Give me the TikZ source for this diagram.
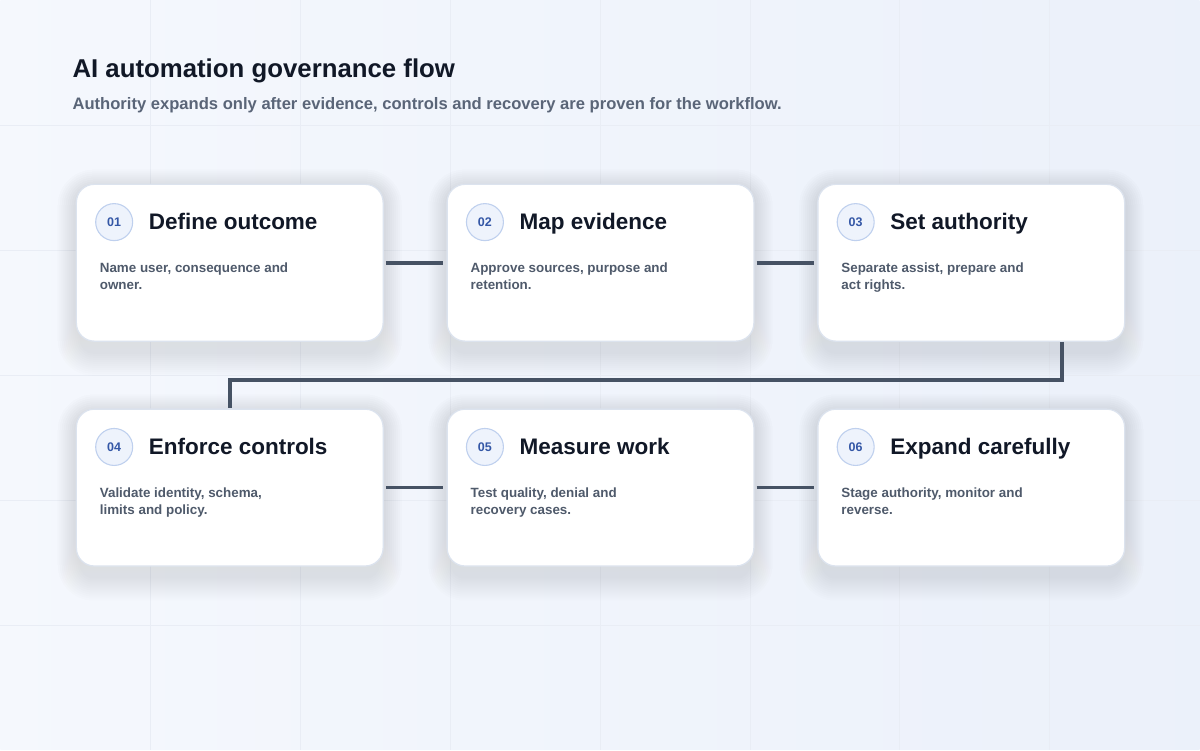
\documentclass[tikz,border=0pt]{standalone}
\usepackage{fontspec}
\setmainfont{Liberation Sans}

\definecolor{ink}{HTML}{111827}
\definecolor{muted}{HTML}{5A6578}
\definecolor{body}{HTML}{4F5A6B}
\definecolor{wire}{HTML}{465264}
\definecolor{edge}{HTML}{DCE3EE}
\definecolor{badgefill}{HTML}{EEF3FC}
\definecolor{badgeline}{HTML}{BFD0EE}
\definecolor{badgetext}{HTML}{3457A6}
\definecolor{gridline}{HTML}{E9EDF5}
\definecolor{shade}{HTML}{2A3658}

\pgfdeclarelayer{bg}
\pgfsetlayers{bg,main}

\tikzset{
  card/.style={draw=edge, line width=1.3pt, fill=white, rounded corners=18pt,
    minimum width=307pt, minimum height=157pt},
  badge/.style={circle, draw=badgeline, line width=1.1pt, fill=badgefill,
    minimum size=37pt, inner sep=0pt, text=badgetext,
    font=\fontsize{12.5}{12.5}\selectfont\bfseries},
  cardtitle/.style={anchor=base west, inner sep=0pt, text=ink,
    font=\fontsize{22.5}{22.5}\selectfont\bfseries},
  cardtext/.style={anchor=north west, inner sep=0pt, text=body, align=left,
    font=\fontsize{13.4}{17}\selectfont\bfseries},
  link/.style={draw=wire, line width=3.6pt}
}

\begin{document}
\begin{tikzpicture}[x=1pt, y=-1pt]
% background
\begin{pgfonlayer}{bg}
\shade[left color=white!40!badgefill, right color=badgefill!85!edge] (0,0) rectangle (1200,750);
\foreach \gx in {150,300,...,1050}
  \draw[gridline, line width=0.8pt] (\gx,0) -- (\gx,750);
\foreach \gy in {125,250,...,625}
  \draw[gridline, line width=0.8pt] (0,\gy) -- (1200,\gy);
\end{pgfonlayer}
\useasboundingbox (0,0) rectangle (1200,750);

% heading
\node[anchor=base west, inner sep=0pt, text=ink, font=\fontsize{25.8}{25.8}\selectfont\bfseries]
  (head) at (72,77) {AI automation governance flow};
\node[anchor=base west, inner sep=0pt, text=muted, font=\fontsize{16.6}{16.6}\selectfont\bfseries]
  (sub) at (72,109) {Authority expands only after evidence, controls and recovery are proven for the workflow.};

% cards
\node[card] (c1) at (229.5,262.5) {};
\node[card] (c2) at (600.5,262.5) {};
\node[card] (c3) at (971.5,262.5) {};
\node[card] (c4) at (229.5,487.5) {};
\node[card] (c5) at (600.5,487.5) {};
\node[card] (c6) at (971.5,487.5) {};

% soft shadows
\begin{pgfonlayer}{bg}
\foreach \c in {c1,c2,c3,c4,c5,c6}
  \foreach \k in {0,...,11}
    \fill[shade, opacity=0.009, rounded corners=14pt+2*\k pt]
      ([xshift=4pt-2*\k pt, yshift=-8pt+2*\k pt]\c.north west)
      rectangle ([xshift=-4pt+2*\k pt, yshift=-12pt-2*\k pt]\c.south east);
\end{pgfonlayer}

% connectors
\draw[link, shorten <=2pt, shorten >=3pt] (c1.east) -- (c2.west);
\draw[link, shorten <=2pt, shorten >=3pt] (c2.east) -- (c3.west);
\draw[link] ([xshift=90.5pt]c3.south) -- ++(0,38) -| (c4.north);
\draw[link, shorten <=2pt, shorten >=3pt] (c4.east) -- (c5.west);
\draw[link, shorten <=2pt, shorten >=3pt] (c5.east) -- (c6.west);

% card contents
\foreach \c/\n/\t/\a/\b in {
  c1/01/Define outcome/{Name user, consequence and}/{owner.},
  c2/02/Map evidence/{Approve sources, purpose and}/{retention.},
  c3/03/Set authority/{Separate assist, prepare and}/{act rights.},
  c4/04/Enforce controls/{Validate identity, schema,}/{limits and policy.},
  c5/05/Measure work/{Test quality, denial and}/{recovery cases.},
  c6/06/Expand carefully/{Stage authority, monitor and}/{reverse.}}{
  \node[badge] (\c-num) at ([xshift=38.5pt, yshift=-38.5pt]\c.north west) {\n};
  \node[cardtitle] (\c-title) at ([xshift=73pt, yshift=-46pt]\c.north west) {\t};
  \node[cardtext] (\c-text) at ([xshift=24pt, yshift=-79pt]\c.north west) {\a\\\b};
}
\end{tikzpicture}
\end{document}
